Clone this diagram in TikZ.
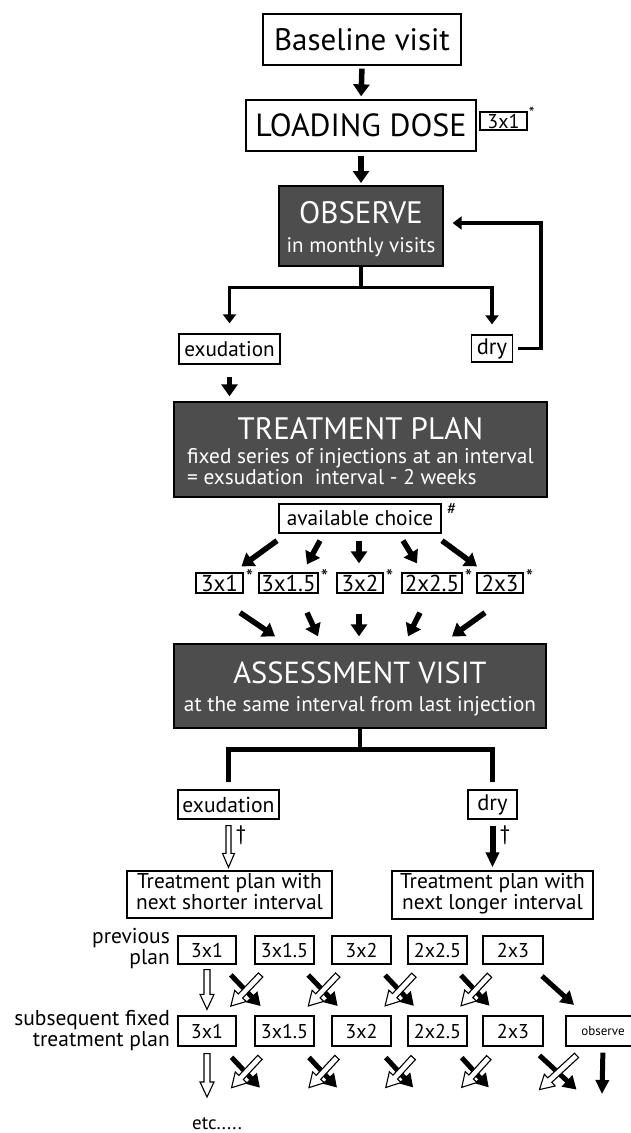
\documentclass[tikz,border=0pt]{standalone}
\usepackage{fontspec}
\setmainfont{PT Sans}
\usetikzlibrary{arrows.meta,calc}
\definecolor{darkbox}{RGB}{77,77,77}
\newcommand\myfs[1]{\fontsize{#1}{#1}\selectfont}
\newcommand\hollowarr[5]{%
  \coordinate (hS) at (#1);
  \coordinate (hE) at (#2);
  \coordinate (hH) at ($(hE)!#5!(hS)$);
  \draw[line width=1.1pt, fill=white, line join=miter]
    ($(hS)!#3!90:(hE)$) -- ($(hH)!#3!90:(hE)$) -- ($(hH)!#4!90:(hE)$) -- (hE)
    -- ($(hH)!#4!-90:(hE)$) -- ($(hH)!#3!-90:(hE)$) -- ($(hS)!#3!-90:(hE)$) -- cycle;
}
\tikzset{
  wbox/.style={draw=black, line width=1.3pt, fill=white, inner sep=0pt},
  dbox/.style={draw=black, line width=1.3pt, fill=darkbox, inner sep=0pt},
  txt/.style={inner sep=0pt, anchor=base},
  wtxt/.style={inner sep=0pt, anchor=base, text=white},
  blk/.style={line width=5.5pt, -{Triangle[length=12pt,width=16pt]}},
  blkx/.style={line width=5pt, -{Triangle[length=13pt,width=15pt]}},
  thinarr/.style={line width=3.5pt, -{Triangle[length=9pt,width=13pt]}},
  branch/.style={line width=4.5pt},
}
\begin{document}
\begin{tikzpicture}[x=1pt,y=-1pt]
\fill[white] (0,0) rectangle (630,1133);
\useasboundingbox (0,0) rectangle (630,1133);

% top part
\node[wbox, minimum width=198pt, minimum height=51pt] (base) at (362,39.5) {\myfs{31}Baseline visit};
\node[wbox, minimum width=230pt, minimum height=51pt] (load) at (361,125.5) {\myfs{32}LOADING DOSE};
\node[wbox, minimum width=47pt, minimum height=18pt] (ld31) at (503.5,121) {\myfs{20}3x1};
\node[inner sep=0pt, anchor=north west] (ldast) at ([xshift=1pt,yshift=4pt]ld31.north east) {\myfs{16}*};
\draw[blk, shorten <=3pt, shorten >=3pt] (base.south) -- (load.north);
\draw[blk, shorten <=4pt, shorten >=3pt] (load.south) -- (load.south |- 0,186);

\node[dbox, minimum width=164pt, minimum height=80pt] (obs) at (361,226) {};
\node[wtxt] (obst) at (361,223) {\myfs{31}OBSERVE};
\node[wtxt] (obss) at (361,252) {\myfs{21}in monthly visits};

\node[wbox, minimum width=101pt, minimum height=30pt] (exu1) at (229.5,349) {\myfs{21.2}exudation};
\node[wbox, minimum width=41pt, minimum height=27pt] (dry1) at (492,348.5) {\myfs{22.5}dry};

\draw[thinarr, shorten >=10pt] (obs.south) -- ($(obs.south)+(0,21)$) -| (exu1.north);
\draw[thinarr, shorten >=10pt] (obs.south) -- ($(obs.south)+(0,21)$) -| (dry1.north);
\draw[thinarr, shorten >=9pt] ([xshift=5pt]dry1.east) -- ++(23,0) |- ([yshift=3pt]obs.east);

% treatment plan
\node[dbox, minimum width=373pt, minimum height=95pt] (treat) at (360.5,449.5) {};
\node[wtxt] (treatt) at (360.5,439) {\myfs{31}TREATMENT PLAN};
\node[wtxt, anchor=base west, align=left, font=\fontsize{21.3}{18}\selectfont] (treats) at (187,484) {fixed series of injections at an interval\\= exsudation\ \ interval - 2 weeks};
\draw[blk, shorten <=12pt, shorten >=5pt] (exu1.south) -- (exu1.south |- treat.north);

% choices
\node[wbox, minimum width=162pt, minimum height=29pt] (avail) at (360,518.5) {\myfs{21.3}available choice};
\node[inner sep=0pt, anchor=base west] (hash) at (447,514) {\myfs{17}\#};

\node[wbox, minimum width=47pt, minimum height=20pt] (c1) at (219.5,583) {\myfs{23}3x1};
\node[wbox, minimum width=59pt, minimum height=20pt] (c2) at (288.5,583) {\myfs{23}3x1.5};
\node[wbox, minimum width=46pt, minimum height=20pt] (c3) at (360,583) {\myfs{23}3x2};
\node[wbox, minimum width=60pt, minimum height=20pt] (c4) at (432,583) {\myfs{23}2x2.5};
\node[wbox, minimum width=46pt, minimum height=20pt] (c5) at (500,583) {\myfs{23}2x3};
\foreach \c in {c1,c2,c3,c4,c5}{
  \node[inner sep=0pt, anchor=north west] (\c ast) at ([xshift=2pt,yshift=3pt]\c.north east) {\myfs{21}*};
}

\draw[blk] ($(avail.south)+(-83,7)$) -- ($(c1.north)+(22,-6)$);
\draw[blk] ($(avail.south)+(-40,7)$) -- ($(c2.north)+(18.5,-8)$);
\draw[blk] ($(avail.south)+(-1,7)$) -- ($(c3.north)+(-1,-9)$);
\draw[blk] ($(avail.south)+(43,7)$) -- ($(c4.north)+(-15,-9)$);
\draw[blk] ($(avail.south)+(82,7)$) -- ($(c5.north)+(-23,-6)$);

\node[dbox, minimum width=372pt, minimum height=84pt] (assess) at (360,686) {};
\node[wtxt] (assesst) at (360,683) {\myfs{30.5}ASSESSMENT VISIT};
\node[wtxt] (assesss) at (360,711) {\myfs{21.2}at the same interval from last injection};

\draw[blk] ($(c1.south)+(20.5,19)$) -- ($(assess.north)+(-85,-7)$);
\draw[blk] ($(c2.south)+(18.5,19)$) -- ($(assess.north)+(-42,-7)$);
\draw[blk] ($(c3.south)+(-1,20)$) -- ($(assess.north)+(-1,-7)$);
\draw[blk] ($(c4.south)+(-12,19)$) -- ($(assess.north)+(48,-7)$);
\draw[blk] ($(c5.south)+(-15,19)$) -- ($(assess.north)+(92,-7)$);

% assessment branches
\node[wbox, minimum width=101pt, minimum height=29pt] (exu2) at (228.5,804.5) {\myfs{21.6}exudation};
\node[wbox, minimum width=49pt, minimum height=29pt] (dry2) at (492.5,804.5) {\myfs{22.5}dry};
\draw[branch, shorten >=7pt] (assess.south) -- ($(assess.south)+(0,21)$) -| (exu2.north);
\draw[branch, shorten >=7pt] (assess.south) -- ($(assess.south)+(0,21)$) -| (dry2.north);

\node[wbox, minimum width=205pt, minimum height=47pt] (short) at (229.5,894.5) {};
\node[txt, align=center, font=\fontsize{21.4}{17}\selectfont] (shortt) at (229.5,909) {Treatment plan with\\next shorter interval};
\node[wbox, minimum width=201pt, minimum height=48pt] (long) at (492.5,895) {};
\node[txt, align=center, font=\fontsize{21.4}{17}\selectfont] (longt) at (492.5,909) {Treatment plan with\\next longer interval};

\hollowarr{$(exu2.south)+(0,6)$}{$(exu2.south |- short.north)+(0,-3)$}{2.5pt}{6pt}{14pt}
\draw[line width=6pt, -{Triangle[length=15pt,width=13pt]}, shorten <=6pt, shorten >=3pt] (dry2.south) -- (dry2.south |- long.north);
\node[inner sep=0pt] (dag1) at (241,835) {\myfs{21}†};
\node[inner sep=0pt] (dag2) at (505,835) {\myfs{21}†};

% bottom rows
\node[txt, anchor=base east, align=right, font=\fontsize{21.5}{14}\selectfont] (lp) at (170,964) {previous\\plan};
\node[txt, anchor=base east, align=right, font=\fontsize{21.5}{18}\selectfont] (ls) at (170,1046) {subsequent fixed\\treatment plan};

\node[wbox, minimum width=58pt, minimum height=28pt] (r1a) at (207,950) {\myfs{20}3x1};
\node[wbox, minimum width=59pt, minimum height=28pt] (r1b) at (284.5,950) {\myfs{20}3x1.5};
\node[wbox, minimum width=59pt, minimum height=28pt] (r1c) at (361.5,950) {\myfs{20}3x2};
\node[wbox, minimum width=59pt, minimum height=28pt] (r1d) at (437.5,950) {\myfs{20}2x2.5};
\node[wbox, minimum width=60pt, minimum height=28pt] (r1e) at (513,950) {\myfs{20}2x3};

\node[wbox, minimum width=58pt, minimum height=30pt] (r2a) at (207,1031) {\myfs{20}3x1};
\node[wbox, minimum width=59pt, minimum height=30pt] (r2b) at (284.5,1031) {\myfs{20}3x1.5};
\node[wbox, minimum width=59pt, minimum height=30pt] (r2c) at (361.5,1031) {\myfs{20}3x2};
\node[wbox, minimum width=59pt, minimum height=30pt] (r2d) at (437.5,1031) {\myfs{20}2x2.5};
\node[wbox, minimum width=60pt, minimum height=30pt] (r2e) at (513,1031) {\myfs{20}2x3};
\node[wbox, minimum width=74pt, minimum height=30pt] (r2f) at (603,1031) {\myfs{13}observe};

\coordinate (r3a) at (207,1114);
\coordinate (r3b) at (284.5,1114);
\coordinate (r3c) at (361.5,1114);
\coordinate (r3d) at (437.5,1114);
\coordinate (r3e) at (513,1114);
\coordinate (r3f) at (603,1114);

% row1 -> row2
\hollowarr{$(r1a.south)+(0,5)$}{$(r2a.north)+(0,-6)$}{3pt}{7pt}{15pt}
\foreach \p/\q in {a/b,b/c,c/d,d/e}{
  \draw[blkx, shorten <=34.5pt, shorten >=34.5pt] (r1\p.center) -- (r2\q.center);
  \hollowarr{$(r1\q.center)!34.5pt!(r2\p.center)$}{$(r2\p.center)!34.5pt!(r1\q.center)$}{3pt}{8pt}{14pt}
}
\draw[blkx, shorten <=39pt, shorten >=39pt] (r1e.center) -- (r2f.center);

% row2 -> row3
\hollowarr{$(r2a.south)+(0,7)$}{$(r3a)+(0,-17)$}{3pt}{7pt}{15pt}
\foreach \p/\q in {a/b,b/c,c/d,d/e,e/f}{
  \draw[blkx, shorten <=36pt, shorten >=36pt] (r2\p.center) -- (r3\q);
  \hollowarr{$(r2\q.center)!36pt!(r3\p)$}{$(r3\p)!36pt!(r2\q.center)$}{3pt}{8pt}{14pt}
}
\draw[line width=5pt, -{Triangle[length=14pt,width=13pt]}, shorten <=6pt] (r2f.south) -- ($(r3f)+(-1,-20)$);

\node[txt] (etc) at (217,1129) {\myfs{19}etc.....};
\end{tikzpicture}
\end{document}
